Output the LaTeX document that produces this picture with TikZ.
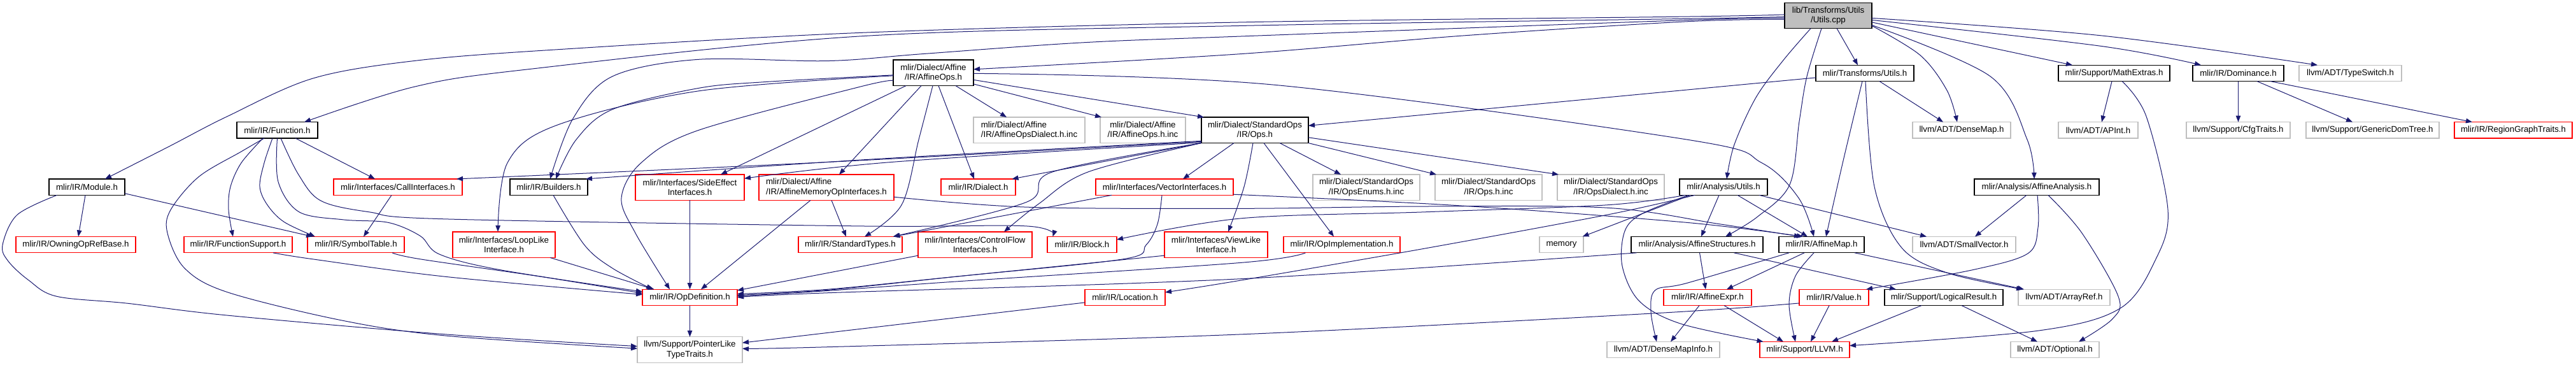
\documentclass[tikz,border=0pt]{standalone}
\usepackage{fontspec}
\setmainfont{Liberation Sans}
\usetikzlibrary{arrows.meta}
\definecolor{edgec}{HTML}{191970}
\definecolor{grayb}{HTML}{BFBFBF}
\definecolor{redb}{HTML}{FF0000}
\newcommand\gfont{\fontsize{13.3pt}{15.4pt}\selectfont}
\begin{document}
\begin{tikzpicture}[x=1pt, y=-1.1035pt,
  nb/.style={draw, line width=1.2pt, inner sep=0pt, outer sep=0pt, minimum height=25.4pt, font=\gfont, align=center},
  two/.style={minimum height=40.5pt},
  bk/.style={nb, draw=black},
  rd/.style={nb, draw=redb},
  gy/.style={nb, draw=grayb},
  edg/.style={draw=edgec, line width=1pt, -{Triangle[length=10pt,width=7.5pt]}},
  sm/.style={smooth, tension=0.55}
]
\useasboundingbox (0,1.38) rectangle (4046,520.6);
% row 0 / 1
\node[bk, two, fill=grayb, minimum width=137pt] (top) at (2871.5,23.5) {lib/Transforms/Utils\\/Utils.cpp};
\node[bk, two, minimum width=126pt] (affops) at (1466,105) {mlir/Dialect/Affine\\/IR/AffineOps.h};
\node[bk, minimum width=154pt] (trutils) at (2929,105.5) {mlir/Transforms/Utils.h};
\node[bk, minimum width=175pt] (mathext) at (3320.5,105.5) {mlir/Support/MathExtras.h};
\node[bk, minimum width=143pt] (dominance) at (3515.5,105.5) {mlir/IR/Dominance.h};
\node[gy, minimum width=161pt] (typeswitch) at (3691.5,105.5) {llvm/ADT/TypeSwitch.h};
% row 1.5
\node[bk, minimum width=127pt] (function) at (435.5,186.5) {mlir/IR/Function.h};
\node[gy, two, minimum width=175pt, align=left] (affdialinc) at (1616.5,186.5) {mlir/Dialect/Affine\\/IR/AffineOpsDialect.h.inc};
\node[gy, two, minimum width=134pt] (affopsinc) at (1795,186.5) {mlir/Dialect/Affine\\/IR/AffineOps.h.inc};
\node[bk, two, minimum width=168pt] (stdops) at (1971,186.5) {mlir/Dialect/StandardOps\\/IR/Ops.h};
\node[gy, minimum width=154pt] (densemap) at (3081,186.5) {llvm/ADT/DenseMap.h};
\node[gy, minimum width=125pt] (apint) at (3295.5,186.5) {llvm/ADT/APInt.h};
\node[gy, minimum width=163pt] (cfgtraits) at (3515.5,186.5) {llvm/Support/CfgTraits.h};
\node[gy, minimum width=209pt] (gendom) at (3726.5,186.5) {llvm/Support/GenericDomTree.h};
\node[rd, minimum width=185pt] (regiongt) at (3947.5,186.5) {mlir/IR/RegionGraphTraits.h};
% row 2
\node[bk, minimum width=119pt] (module) at (136.5,267.5) {mlir/IR/Module.h};
\node[rd, minimum width=202pt] (callif) at (625,267.5) {mlir/Interfaces/CallInterfaces.h};
\node[bk, minimum width=122pt] (builders) at (862,267.5) {mlir/IR/Builders.h};
\node[rd, two, minimum width=171pt] (sideeff) at (1083.5,268) {mlir/Interfaces/SideEffect\\Interfaces.h};
\node[rd, two, minimum width=212pt, align=left] (affmem) at (1298,268) {mlir/Dialect/Affine\\/IR/AffineMemoryOpInterfaces.h};
\node[rd, minimum width=117pt] (dialect) at (1536.5,267.5) {mlir/IR/Dialect.h};
\node[rd, minimum width=216pt] (vectorif) at (1829,267.5) {mlir/Interfaces/VectorInterfaces.h};
\node[gy, two, minimum width=168pt] (opsenums) at (2146,268) {mlir/Dialect/StandardOps\\/IR/OpsEnums.h.inc};
\node[gy, two, minimum width=168pt] (opsinc) at (2338,268) {mlir/Dialect/StandardOps\\/IR/Ops.h.inc};
\node[gy, two, minimum width=168pt] (opsdial) at (2530,268) {mlir/Dialect/StandardOps\\/IR/OpsDialect.h.inc};
\node[bk, minimum width=138pt] (anutils) at (2707,267.5) {mlir/Analysis/Utils.h};
\node[bk, minimum width=196pt] (affanal) at (3199,267.5) {mlir/Analysis/AffineAnalysis.h};
% row 3
\node[rd, minimum width=188pt] (owning) at (119,349.5) {mlir/IR/OwningOpRefBase.h};
\node[rd, minimum width=170pt] (funcsupp) at (374,349.5) {mlir/IR/FunctionSupport.h};
\node[rd, minimum width=152pt] (symtab) at (559,349.5) {mlir/IR/SymbolTable.h};
\node[rd, two, minimum width=161pt] (looplike) at (791.5,349.5) {mlir/Interfaces/LoopLike\\Interface.h};
\node[rd, minimum width=163pt] (stdtypes) at (1335.5,349.5) {mlir/IR/StandardTypes.h};
\node[rd, two, minimum width=179pt] (ctrlflow) at (1531.5,349.5) {mlir/Interfaces/ControlFlow\\Interfaces.h};
\node[rd, minimum width=109pt] (block) at (1699.5,349.5) {mlir/IR/Block.h};
\node[rd, two, minimum width=162pt] (viewlike) at (1910,349.5) {mlir/Interfaces/ViewLike\\Interface.h};
\node[rd, minimum width=183pt] (opimpl) at (2107.5,349.5) {mlir/IR/OpImplementation.h};
\node[gy, minimum width=69pt] (memory) at (2452.5,349.5) {memory};
\node[bk, minimum width=207pt] (affstruct) at (2665.5,349.5) {mlir/Analysis/AffineStructures.h};
\node[bk, minimum width=134pt] (affmap) at (2861,349.5) {mlir/IR/AffineMap.h};
\node[gy, minimum width=162pt] (smallvec) at (3085,349.5) {llvm/ADT/SmallVector.h};
% row 4
\node[rd, minimum width=149pt] (opdef) at (1083.5,424.5) {mlir/IR/OpDefinition.h};
\node[rd, minimum width=126pt] (location) at (1767,424.5) {mlir/IR/Location.h};
\node[rd, minimum width=138pt] (affexpr) at (2682,424.5) {mlir/IR/AffineExpr.h};
\node[rd, minimum width=109pt] (value) at (2880.5,424.5) {mlir/IR/Value.h};
\node[bk, minimum width=186pt] (logres) at (3053,424.5) {mlir/Support/LogicalResult.h};
\node[gy, minimum width=144pt] (arrayref) at (3242,424.5) {llvm/ADT/ArrayRef.h};
% row 5
\node[gy, two, minimum width=165pt] (ptrlike) at (1083.5,499) {llvm/Support/PointerLike\\TypeTraits.h};
\node[gy, minimum width=177pt] (densemapinfo) at (2612.5,499) {llvm/ADT/DenseMapInfo.h};
\node[rd, minimum width=141pt] (llvmh) at (2834.5,499) {mlir/Support/LLVM.h};
\node[gy, minimum width=139pt] (optional) at (3227.5,499) {llvm/ADT/Optional.h};

% ---- edges from Utils.cpp
\draw[edg] ([xshift=13.5pt]top.south) -- ([xshift=-11pt]trutils.north);
\draw[edg] plot[sm] coordinates {([yshift=-16pt]top.east) (3016,80) (3058,130) ([xshift=-7pt]densemap.north)};
\draw[edg] plot[sm] coordinates {([yshift=-15pt]top.east) (3126,110) (3184,200) ([xshift=-4pt]affanal.north)};
\draw[edg] ([yshift=-10.5pt]top.east) -- ([xshift=-65.5pt]mathext.north);
\draw[edg] plot[sm] coordinates {([yshift=-7pt]top.east) (3300,67) ([xshift=-58.5pt]dominance.north)};
\draw[edg] plot[sm] coordinates {([yshift=-4pt]top.east) (3300,52) ([xshift=-51.5pt]typeswitch.north)};
\draw[edg] plot[sm] coordinates {([xshift=-27.5pt]top.south) (2801,87) (2758,140) (2724,207) ([xshift=5pt]anutils.north)};
\draw[edg] plot[sm] coordinates {([xshift=-10.5pt]top.south) (2838,110) (2826,174) (2811,264) (2760,310) ([xshift=44.5pt]affstruct.north)};
\draw[edg] plot[sm] coordinates {([yshift=-6pt]top.west) (2650,32) (2300,52) (1950,78) ([yshift=5.5pt]affops.east)};
\draw[edg] plot[sm] coordinates {([yshift=-2pt]top.west) (2650,28) (1950,38) (1350,53) (829,100) (650,125) ([xshift=42.5pt]function.north)};
\draw[edg] plot[sm] coordinates {([yshift=1.5pt]top.west) (2650,25) (1950,33) (1350,48) (873,72) (650,88) (491,113) (357,167) (265,210) ([xshift=28.5pt]module.north)};
\draw[edg] plot[sm] coordinates {([yshift=-4pt]top.west) (2650,30) (1950,53) (1700,62) (1450,78) (1300,88) (1096,86) (962,110) (900,170) ([xshift=2pt]builders.north)};

% ---- Transforms/Utils.h
\draw[edg] ([yshift=-7pt]trutils.west) -- ([yshift=7pt]stdops.east);
\draw[edg] ([xshift=23pt]trutils.south) -- ([xshift=-29pt]densemap.north);
\draw[edg] plot[sm] coordinates {([xshift=-4pt]trutils.south) (2895,230) ([xshift=7pt]affmap.north)};
\draw[edg] plot[sm] coordinates {([xshift=1pt]trutils.south) (2944,267) (2987,354) (3060,390) ([xshift=-65pt]arrayref.north)};

% ---- MathExtras, Dominance
\draw[edg] ([xshift=-3.5pt]mathext.south) -- ([xshift=5.5pt]apint.north);
\draw[edg] plot[sm] coordinates {([xshift=12.5pt]mathext.south) (3371,167) (3405,300) (3386,370) (3330,440) (3200,472) ([yshift=6.5pt]llvmh.east)};
\draw[edg] (dominance.south) -- (cfgtraits.north);
\draw[edg] ([xshift=29.5pt]dominance.south) -- ([xshift=-31.5pt]gendom.north);
\draw[edg] ([xshift=50.5pt]dominance.south) -- ([xshift=-64.5pt]regiongt.north);

% ---- AffineAnalysis
\draw[edg] ([xshift=-16pt]affanal.south) -- ([xshift=17pt]smallvec.north);
\draw[edg] plot[sm] coordinates {([xshift=1pt]affanal.south) (3201,325) (3185,362) (3100,385) ([xshift=-4pt]value.north east)};
\draw[edg] plot[sm] coordinates {([xshift=18pt]affanal.south) (3270,333) (3327,423) (3318,455) ([xshift=37.5pt]optional.north)};

% ---- Analysis/Utils
\draw[edg] ([xshift=-7pt]anutils.south) -- ([xshift=6.5pt]affstruct.north);
\draw[edg] ([xshift=22pt]anutils.south) -- ([xshift=-22pt]affmap.north);
\draw[edg] ([xshift=56pt]anutils.south) -- ([xshift=-59pt]smallvec.north);
\draw[edg] ([xshift=-52pt]anutils.south) -- ([xshift=33pt]memory.north);
\draw[edg] plot[sm] coordinates {([xshift=-60pt]anutils.south) (2524,293) (2237,303) (1950,312) ([yshift=8pt]block.east)};
\draw[edg] plot[sm] coordinates {([xshift=-45pt]anutils.south) (2524,307) (2237,355) (1950,400) ([yshift=8pt]location.east)};
\draw[edg] plot[sm] coordinates {([xshift=-55pt]anutils.south) (2580,305) (2552,330) (2548,380) (2575,430) (2640,462) ([xshift=-65pt]llvmh.north)};

% ---- AffineStructures
\draw[edg] ([xshift=4pt]affstruct.south) -- ([xshift=-3pt]affexpr.north);
\draw[edg] ([xshift=58pt]affstruct.south) -- ([xshift=-75pt]logres.north);
\draw[edg] plot[sm] coordinates {([xshift=-95pt]affstruct.south) (1950,398) (1300,418) (opdef.east)};

% ---- AffineMap
\draw[edg] ([xshift=-27pt]affmap.south) -- ([xshift=30pt]affexpr.north);
\draw[edg] plot[sm] coordinates {([xshift=-12pt]affmap.south) (2820,394) (2810,435) ([xshift=-14.5pt]llvmh.north)};
\draw[edg] ([xshift=52pt]affmap.south) -- ([xshift=-63pt]arrayref.north);
\draw[edg] plot[sm] coordinates {([xshift=-51pt]affmap.south) (2650,404) (2600,414) (2593,445) ([xshift=-10.5pt]densemapinfo.north)};

% ---- AffineExpr, Value, LogicalResult, Location, OpDefinition
\draw[edg] ([xshift=-13pt]affexpr.south) -- ([xshift=11.5pt]densemapinfo.north);
\draw[edg] ([xshift=26pt]affexpr.south) -- ([xshift=-33.5pt]llvmh.north);
\draw[edg] ([xshift=-7.5pt]value.south) -- ([xshift=9.5pt]llvmh.north);
\draw[edg] plot[sm] coordinates {([yshift=-9pt]value.west) (2600,447) (1950,477) (1300,495) ([yshift=2pt]ptrlike.east)};
\draw[edg] ([xshift=-35pt]logres.south) -- ([xshift=42.5pt]llvmh.north);
\draw[edg] ([xshift=28pt]logres.south) -- ([xshift=-27.5pt]optional.north);
\draw[edg] ([yshift=-8pt]location.west) -- ([yshift=11pt]ptrlike.east);
\draw[edg] (opdef.south) -- (ptrlike.north);

% ---- StandardOps/Ops.h
\draw[edg] plot[sm] coordinates {([yshift=-18pt]stdops.west) (1300,232) ([xshift=92pt]callif.north)};
\draw[edg] plot[sm] coordinates {([yshift=-17pt]stdops.west) (1350,229) ([xshift=-3pt]builders.north east)};
\draw[edg] plot[sm] coordinates {([yshift=-19.5pt]stdops.west) (1400,232) ([yshift=14pt]sideeff.east)};
\draw[edg] (stdops.south west) -- ([xshift=53pt]dialect.north);
\draw[edg] plot[sm] coordinates {(stdops.south west) (1653,246) (1612,289) ([xshift=67pt]stdtypes.north)};
\draw[edg] plot[sm] coordinates {(stdops.south west) (1709,246) (1632,291) ([xshift=45.5pt]ctrlflow.north)};
\draw[edg] ([xshift=-33pt]stdops.south) -- ([xshift=29pt]vectorif.north);
\draw[edg] plot[sm] coordinates {([xshift=-3pt]stdops.south) (1954,267) ([xshift=19pt]viewlike.north)};
\draw[edg] ([xshift=14pt]stdops.south) -- ([xshift=-12.5pt]opimpl.north);
\draw[edg] ([xshift=39pt]stdops.south) -- ([xshift=-40pt]opsenums.north);
\draw[edg] (stdops.south east) -- ([xshift=-82pt]opsinc.north);
\draw[edg] ([yshift=-11.5pt]stdops.east) -- ([xshift=-82pt]opsdial.north);

% ---- AffineOps.h
\draw[edg] plot[sm] coordinates {([yshift=-3.5pt]affops.west) (1200,118) (1096,127) (962,157) (905,200) ([xshift=11pt]builders.north)};
\draw[edg] plot[sm] coordinates {([yshift=-4.5pt]affops.west) (1096,131) (873,180) (797,233) ([xshift=-9.5pt]looplike.north)};
\draw[edg] plot[sm] coordinates {([yshift=-12pt]affops.west) (1350,125) (1096,187) (1007,233) (976,283) (998,333) ([xshift=-31.5pt]opdef.north)};
\draw[edg] ([xshift=-43pt]affops.south) -- ([xshift=48.5pt]sideeff.north);
\draw[edg] ([xshift=-19pt]affops.south) -- ([xshift=20pt]affmem.north);
\draw[edg] plot[sm] coordinates {([xshift=-1pt]affops.south) (1443,200) (1416,293) ([xshift=22.5pt]stdtypes.north)};
\draw[edg] ([xshift=8pt]affops.south) -- ([xshift=-6.5pt]dialect.north);
\draw[edg] ([xshift=35pt]affops.south) -- ([xshift=-35.5pt]affdialinc.north);
\draw[edg] ([yshift=-17.5pt]affops.east) -- ([xshift=-65pt]affopsinc.north);
\draw[edg] ([yshift=-11pt]affops.east) -- ([xshift=-80pt]stdops.north);
\draw[edg] plot[sm] coordinates {([yshift=-1pt]affops.east) (2000,122) (2650,200) (2767,233) (2825,283) ([xshift=-12pt]affmap.north)};

% ---- Function.h
\draw[edg] ([xshift=28.5pt]function.south) -- ([xshift=-36pt]callif.north);
\draw[edg] plot[sm] coordinates {([xshift=-20.5pt]function.south) (379,217) (312,253) (268,300) (263,333) (290,383) (357,417) (536,457) (700,479) ([yshift=2pt]ptrlike.west)};
\draw[edg] plot[sm] coordinates {([xshift=-22.5pt]function.south) (379,233) (362,267) (359,300) ([xshift=-8pt]funcsupp.north)};
\draw[edg] plot[sm] coordinates {([xshift=-7.5pt]function.south) (415,233) (408,267) (420,293) (446,317) ([xshift=-64pt]symtab.north)};
\draw[edg] plot[sm] coordinates {(function.south) (437,260) (470,303) (540,314) (610,318) (660,337) (690,363) (784,385) ([yshift=9pt]opdef.west)};
\draw[edg] plot[sm] coordinates {([xshift=5.5pt]function.south) (469,250) (504,287) (580,303) (700,313) (1350,323) (1612,323) ([xshift=-46pt]block.north)};

% ---- Module.h
\draw[edg] ([xshift=-2.5pt]module.south) -- ([xshift=4pt]owning.north);
\draw[edg] ([yshift=-10pt]module.east) -- ([xshift=-68pt]symtab.north);
\draw[edg] plot[sm] coordinates {([xshift=-47pt]module.south) (27,307) (4,350) (13,373) (45,400) (89,423) (201,433) (357,450) (700,477) ([yshift=5.5pt]ptrlike.west)};

% ---- remaining into OpDefinition etc.
\draw[edg] ([xshift=-10pt]callif.south) -- ([xshift=12pt]symtab.north);
\draw[edg] plot[sm] coordinates {([xshift=55pt]funcsupp.south) (491,370) (700,395) ([yshift=4.5pt]opdef.west)};
\draw[edg] plot[sm] coordinates {([xshift=57pt]symtab.south) (660,370) (850,395) ([yshift=6.5pt]opdef.west)};
\draw[edg] plot[sm] coordinates {([xshift=7pt]builders.south) (918,350) (962,383) ([xshift=-58.5pt]opdef.north)};
\draw[edg] ([xshift=72.5pt]looplike.south) -- ([xshift=-56pt]opdef.north);
\draw[edg] (sideeff.south) -- (opdef.north);
\draw[edg] ([xshift=-25pt]affmem.south) -- ([xshift=17.5pt]opdef.north);
\draw[edg] ([xshift=8pt]affmem.south) -- ([xshift=-6.5pt]stdtypes.north);
\draw[edg] plot[sm] coordinates {([yshift=-15pt]affmem.east) (1612,296) (1950,298) (2237,295) (2524,297) (2700,320) ([xshift=-33pt]affmap.north)};
\draw[edg] plot[sm] coordinates {([yshift=-11.5pt]vectorif.east) (2294,294) (2650,318) ([xshift=-29pt]affmap.north)};
\draw[edg] plot[sm] coordinates {([xshift=-4pt]vectorif.south) (1818,320) (1800,350) (1764,370) (1500,395) (1300,414) ([yshift=3.5pt]opdef.east)};
\draw[edg] ([xshift=-83pt]vectorif.south) -- ([xshift=68pt]stdtypes.north);
\draw[edg] ([yshift=-17pt]ctrlflow.west) -- ([yshift=11pt]opdef.east);
\draw[edg] plot[sm] coordinates {([yshift=-17pt]viewlike.west) (1500,395) (1300,413) ([yshift=5.5pt]opdef.east)};
\draw[edg] plot[sm] coordinates {([xshift=-57pt]opimpl.south) (1950,375) (1500,402) (1300,415) ([yshift=2pt]opdef.east)};
\end{tikzpicture}
\end{document}
